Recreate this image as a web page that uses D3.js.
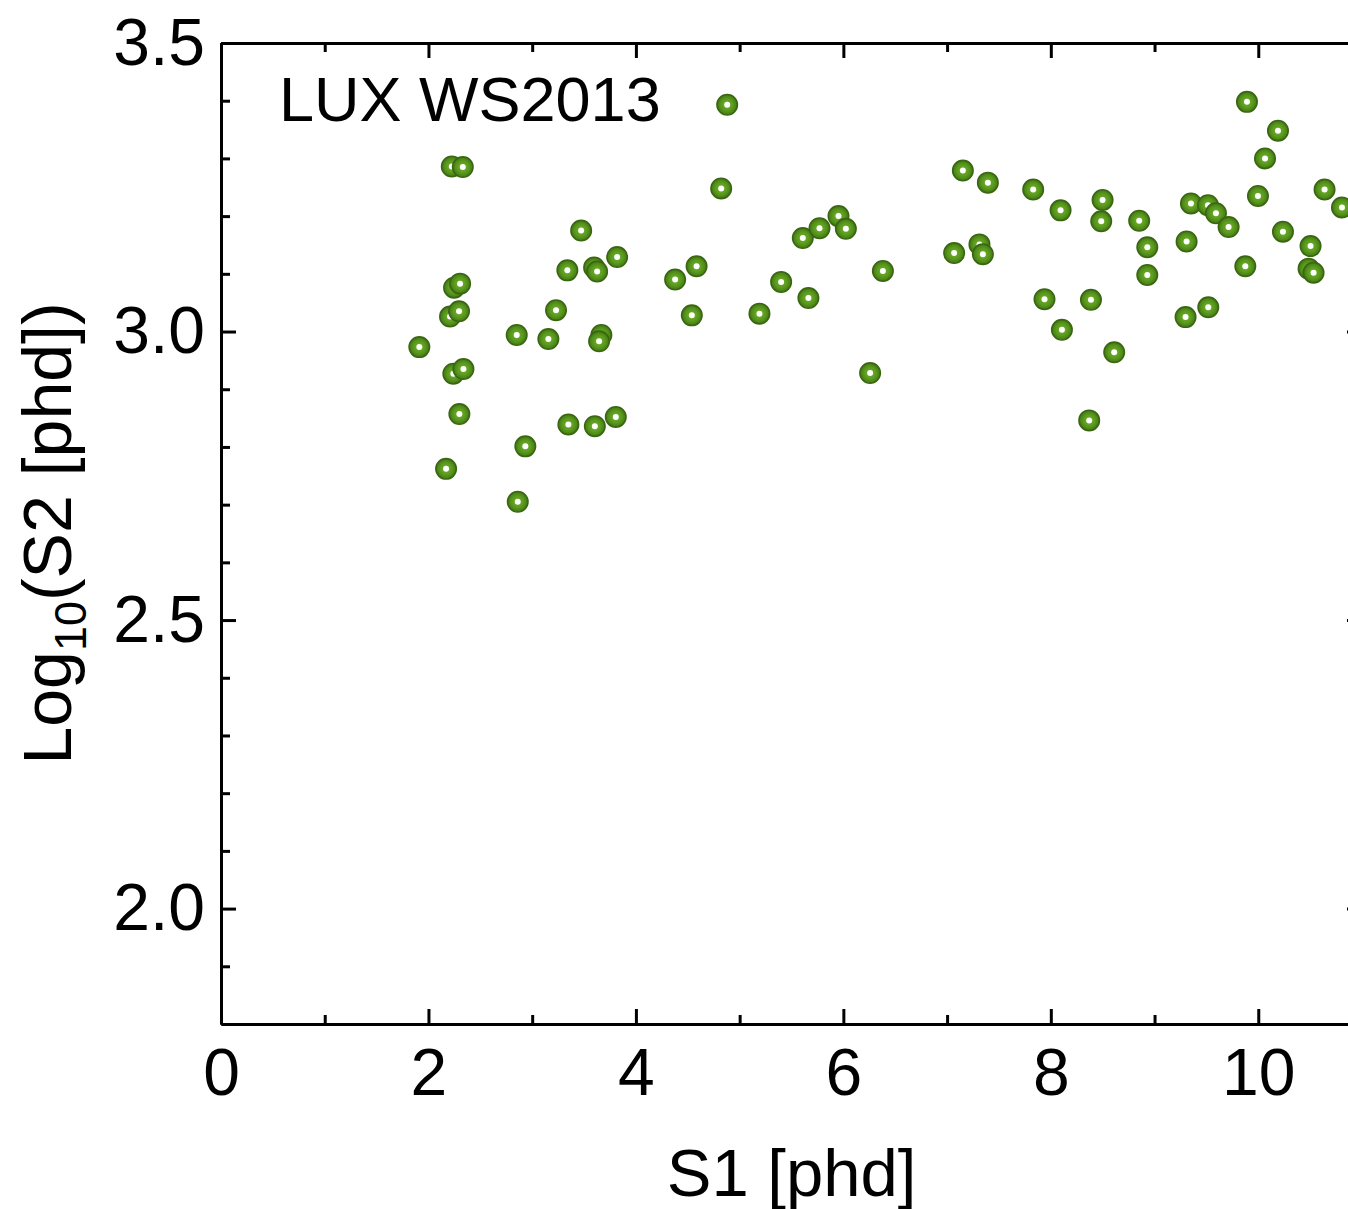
<!DOCTYPE html>
<html>
<head>
<meta charset="utf-8">
<script src="https://cdn.jsdelivr.net/npm/d3@7"></script>
<style>
  html, body { margin: 0; padding: 0; background: #fff; }
  svg { display: block; }
  text { font-family: "Liberation Sans", Arial, sans-serif; fill: #000; }
</style>
</head>
<body>
<svg id="chart" width="1348" height="1209"></svg>
<script>
// LUX WS2013 events: S1 [phd] vs log10(S2 [phd])
const s1 = [
  1.912, 2.170, 2.208, 2.240, 2.247, 2.305, 2.295, 2.225, 2.331, 2.337,
  2.298, 2.851, 2.861, 2.934, 3.156, 3.230, 3.339, 3.472, 3.597, 3.626,
  3.349, 3.604, 3.667, 3.645, 3.806, 3.819, 4.378, 4.539, 4.585, 4.822,
  4.880, 5.191, 5.400, 5.609, 5.663, 5.770, 5.953, 6.024, 6.258, 6.381,
  7.068, 7.152, 7.312, 7.345, 7.393, 7.830, 7.939, 8.094, 8.107, 8.370,
  8.387, 8.486, 8.499, 8.611, 8.852, 8.930, 8.930, 9.299, 9.309, 9.351,
  9.515, 9.518, 9.592, 9.714, 9.875, 9.891, 9.997, 10.065, 10.190, 10.238,
  10.504, 10.485, 10.533, 10.639, 10.807
];
const logS2 = [
  2.973, 2.762, 3.026, 2.927, 3.076, 3.083, 3.035, 3.286, 3.285, 2.935,
  2.857, 2.994, 2.705, 2.801, 2.987, 3.037, 3.106, 3.175, 3.111, 3.104,
  2.839, 2.836, 2.994, 2.983, 2.852, 3.129, 3.090, 3.028, 3.113, 3.248,
  3.393, 3.031, 3.086, 3.162, 3.058, 3.179, 3.200, 3.178, 2.928, 3.105,
  3.136, 3.279, 3.151, 3.134, 3.258, 3.246, 3.056, 3.210, 3.003, 2.846,
  3.055, 3.191, 3.228, 2.964, 3.192, 3.146, 3.098, 3.025, 3.156, 3.222,
  3.219, 3.042, 3.205, 3.181, 3.113, 3.398, 3.235, 3.300, 3.348, 3.173,
  3.148, 3.109, 3.102, 3.246, 3.215
];

const xMajor = [0, 2, 4, 6, 8, 10];
const xMinor = [1, 3, 5, 7, 9, 11];
const yMajor = [2.0, 2.5, 3.0, 3.5];
const yMinor = [1.9, 2.1, 2.2, 2.3, 2.4, 2.6, 2.7, 2.8, 2.9, 3.1, 3.2, 3.3, 3.4];

const svg = d3.select("#chart");
const plotL = 221, plotR = 1362, plotT = 43, plotB = 1024;

const x = d3.scaleLinear().domain([0, 11]).range([plotL, plotR]);
const y = d3.scaleLinear().domain([1.8, 3.5]).range([plotB, plotT]);

const tickFont = 66;
const majorLen = 15, minorLen = 9, lw = 3;

function styleAxis(g) {
  g.selectAll("path.domain").attr("stroke", "#000").attr("stroke-width", lw);
  g.selectAll(".tick line").attr("stroke", "#000").attr("stroke-width", lw);
  g.selectAll(".tick text").style("font-size", tickFont + "px")
    .style("font-family", '"Liberation Sans", Arial, sans-serif').attr("fill", "#000");
}

// bottom axis
svg.append("g").attr("transform", `translate(0,${plotB})`)
  .call(d3.axisBottom(x).tickValues(xMajor).tickSize(-majorLen).tickSizeOuter(0)
        .tickPadding(24).tickFormat(d3.format("d")))
  .call(styleAxis);
svg.append("g").attr("transform", `translate(0,${plotB})`)
  .call(d3.axisBottom(x).tickValues(xMinor).tickSize(-minorLen).tickSizeOuter(0).tickFormat(""))
  .call(styleAxis);

// top axis
svg.append("g").attr("transform", `translate(0,${plotT})`)
  .call(d3.axisTop(x).tickValues(xMajor).tickSize(-majorLen).tickSizeOuter(0).tickFormat(""))
  .call(styleAxis);
svg.append("g").attr("transform", `translate(0,${plotT})`)
  .call(d3.axisTop(x).tickValues(xMinor).tickSize(-minorLen).tickSizeOuter(0).tickFormat(""))
  .call(styleAxis);

// left axis
svg.append("g").attr("transform", `translate(${plotL},0)`)
  .call(d3.axisLeft(y).tickValues(yMajor).tickSize(-majorLen).tickSizeOuter(0)
        .tickPadding(16).tickFormat(d3.format(".1f")))
  .call(styleAxis);
svg.append("g").attr("transform", `translate(${plotL},0)`)
  .call(d3.axisLeft(y).tickValues(yMinor).tickSize(-minorLen).tickSizeOuter(0).tickFormat(""))
  .call(styleAxis);

// right axis
svg.append("g").attr("transform", `translate(${plotR},0)`)
  .call(d3.axisRight(y).tickValues(yMajor).tickSize(-majorLen).tickSizeOuter(0).tickFormat(""))
  .call(styleAxis);
svg.append("g").attr("transform", `translate(${plotR},0)`)
  .call(d3.axisRight(y).tickValues(yMinor).tickSize(-minorLen).tickSizeOuter(0).tickFormat(""))
  .call(styleAxis);

// marker shading
const defs = svg.append("defs");
const grad = defs.append("radialGradient").attr("id", "bead");
grad.append("stop").attr("offset", "0%").attr("stop-color", "#72b22c");
grad.append("stop").attr("offset", "55%").attr("stop-color", "#5c9c1e");
grad.append("stop").attr("offset", "100%").attr("stop-color", "#437914");

const pts = s1.map((v, i) => ({ s1: v, s2: logS2[i] }));
const mk = svg.append("g");
const grp = mk.selectAll("g").data(pts).join("g")
  .attr("transform", d => `translate(${x(d.s1)},${y(d.s2)})`);
grp.append("circle").attr("r", 10.2)
  .attr("fill", "url(#bead)").attr("stroke", "#3a6612").attr("stroke-width", 1.6);
grp.append("circle").attr("r", 3).attr("fill", "#fff");

// label in the plot
svg.append("text").attr("x", 279).attr("y", 121)
  .style("font-size", "63px").text("LUX WS2013");

// axis titles
svg.append("text").attr("x", (plotL + plotR) / 2).attr("y", 1196)
  .attr("text-anchor", "middle").style("font-size", "67px").text("S1 [phd]");

const yt = svg.append("text")
  .attr("transform", `translate(71,${(plotT + plotB) / 2}) rotate(-90)`)
  .attr("text-anchor", "middle").style("font-size", "68px");
yt.append("tspan").text("Log");
yt.append("tspan").attr("dy", 15).style("font-size", "45px").text("10");
yt.append("tspan").attr("dy", -15).text("(S2 [phd])");
</script>
</body>
</html>
